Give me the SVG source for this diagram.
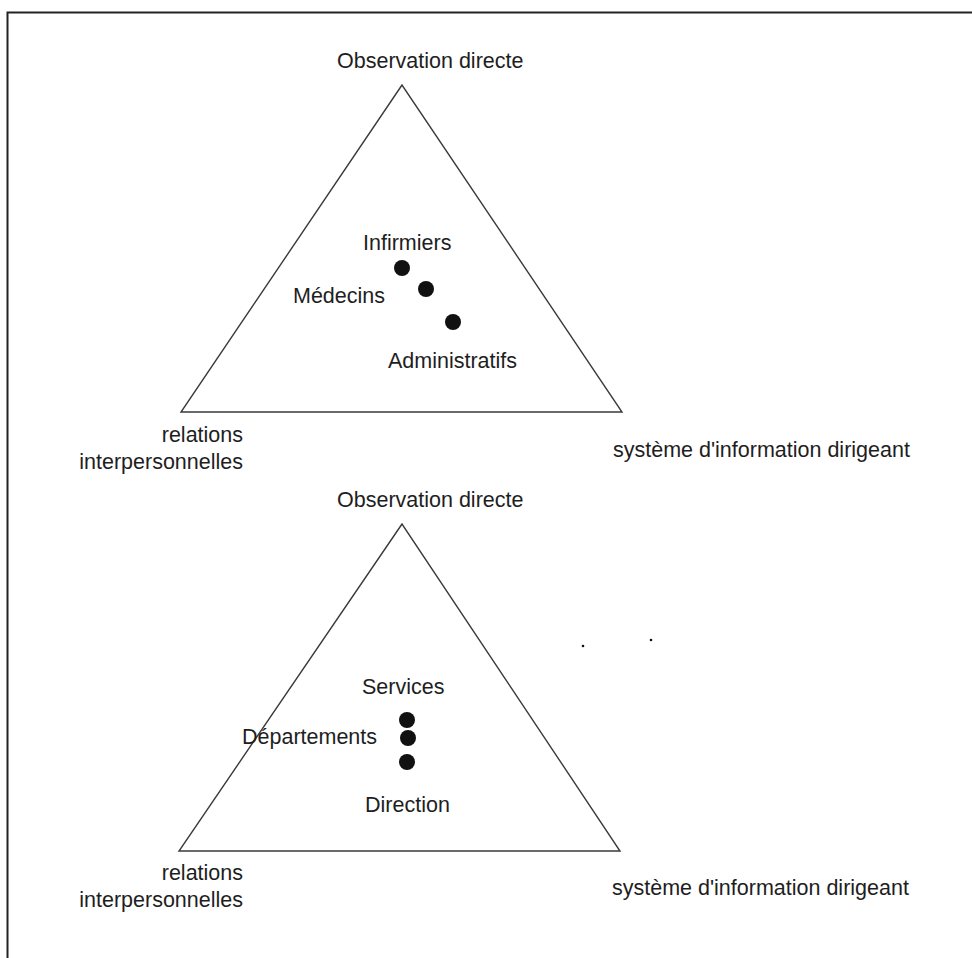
<svg xmlns="http://www.w3.org/2000/svg" width="972" height="958" viewBox="0 0 972 958">
  <style>
    .lbl { font-family: "Liberation Sans", Arial, Helvetica, sans-serif; font-size: 21.5px; fill: #1e1e1e; }
    .mid { text-anchor: middle; }
    .end { text-anchor: end; }
    .tri { fill: none; stroke: #3a3a3a; stroke-width: 1.4; stroke-linejoin: miter; }
    .dot { fill: #111; }
    .frame { fill: none; stroke: #222; stroke-width: 2; }
  </style>
  <rect width="972" height="958" fill="#fff"/>

  <!-- page frame (top and left rules) -->
  <path class="frame" d="M7.5,958 V12.5 H972"/>

  <!-- upper triangle: personnel categories -->
  <g id="triangle-personnel">
    <polygon class="tri" points="402,85 181,412 622,412"/>
    <text class="lbl" x="337" y="68">Observation directe</text>
    <text class="lbl end" x="243" y="442">relations</text>
    <text class="lbl end" x="243" y="469">interpersonnelles</text>
    <text class="lbl" x="613" y="457">système d'information dirigeant</text>
  </g>
  <g id="infirmiers">
    <circle class="dot" cx="402" cy="268" r="8"/>
    <text class="lbl" x="363" y="250">Infirmiers</text>
  </g>
  <g id="medecins">
    <circle class="dot" cx="426" cy="289" r="8"/>
    <text class="lbl" x="293" y="303">Médecins</text>
  </g>
  <g id="administratifs">
    <circle class="dot" cx="453" cy="322" r="8"/>
    <text class="lbl" x="388" y="368">Administratifs</text>
  </g>

  <!-- lower triangle: organisational levels -->
  <g id="triangle-niveaux">
    <polygon class="tri" points="402,524 179,851 620,851"/>
    <text class="lbl" x="337" y="507">Observation directe</text>
    <text class="lbl end" x="243" y="880">relations</text>
    <text class="lbl end" x="243" y="907">interpersonnelles</text>
    <text class="lbl" x="612" y="895">système d'information dirigeant</text>
  </g>
  <g id="services">
    <circle class="dot" cx="407" cy="720" r="8"/>
    <text class="lbl" x="362" y="694">Services</text>
  </g>
  <g id="departements">
    <circle class="dot" cx="408" cy="738" r="8"/>
    <text class="lbl" x="242" y="744">Départements</text>
  </g>
  <g id="direction">
    <circle class="dot" cx="407" cy="762" r="8"/>
    <text class="lbl" x="365" y="812">Direction</text>
  </g>

  <!-- specks -->
  <circle class="dot" cx="583" cy="646" r="1.3"/>
  <circle class="dot" cx="651" cy="640" r="1.3"/>
</svg>
